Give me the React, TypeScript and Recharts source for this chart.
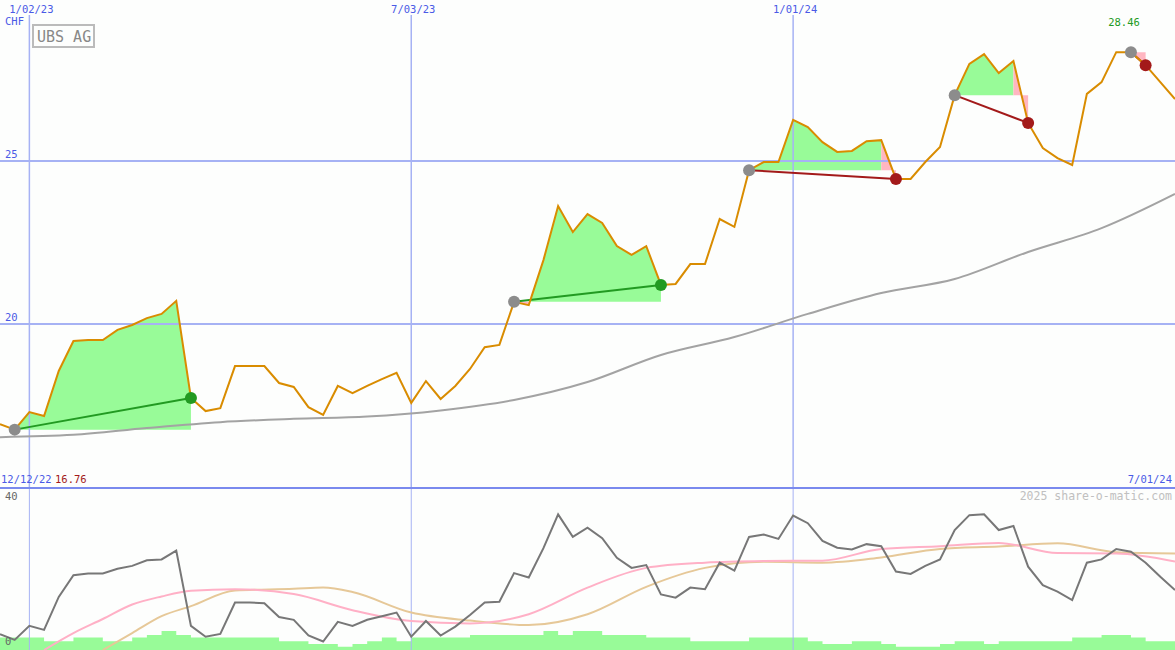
import React from 'react';
import { ComposedChart, Line, Area, XAxis, YAxis, ReferenceLine } from 'recharts';

// weekly closes, index 0 = left edge of the chart
const price = [
  16.93, 16.76, 17.3, 17.18, 18.56, 19.48, 19.51, 19.51, 19.82, 19.97,
  20.18, 20.31, 20.71, 17.73, 17.33, 17.42, 18.71, 18.71, 18.71, 18.19,
  18.07, 17.45, 17.21, 18.1, 17.88, 18.1, 18.31, 18.5, 17.58, 18.25,
  17.7, 18.1, 18.62, 19.29, 19.36, 20.68, 20.58, 21.96, 23.62, 22.82,
  23.37, 23.1, 22.39, 22.12, 22.39, 21.2, 21.23, 21.84, 21.84, 23.22,
  22.98, 24.72, 24.97, 24.97, 26.26, 26.04, 25.58, 25.28, 25.31, 25.61,
  25.64, 24.45, 24.45, 24.97, 25.43, 27.02, 27.98, 28.28, 27.7, 28.07,
  26.17, 25.4, 25.09, 24.88, 27.06, 27.42, 28.34, 28.34, 27.94, 27.42, 26.9,
];

// long moving average, read every 5 weeks
const maIdx = [0, 5, 10, 15, 20, 25, 30, 35, 40, 45, 50, 55, 60, 65, 70, 75, 80];
const maVals = [16.53, 16.6, 16.81, 16.99, 17.09, 17.16, 17.35, 17.67, 18.22, 19.05, 19.6, 20.31, 20.95, 21.38, 22.21, 22.94, 23.99];

// signals: buy week / sell week
const tradeBuy = [1, 35, 51, 65, 77];
const tradeSell = [13, 45, 61, 70, 78];

// lower panel
const osc = [
  3.9, 2.5, 6.0, 5.0, 13.2, 18.6, 19.0, 19.0, 20.2, 20.9,
  22.3, 22.5, 24.7, 6.0, 3.3, 4.0, 11.8, 11.8, 11.6, 8.2,
  7.5, 3.6, 2.1, 7.0, 6.0, 7.5, 8.4, 9.3, 3.3, 7.2,
  3.6, 5.8, 8.7, 11.8, 12.0, 19.1, 18.0, 25.3, 33.7, 28.1,
  30.4, 27.8, 22.9, 20.4, 21.1, 13.8, 13.0, 15.5, 15.1, 21.7,
  19.7, 28.1, 28.7, 27.6, 33.4, 31.5, 27.1, 25.4, 25.0, 26.3,
  25.8, 19.5, 18.9, 20.9, 22.5, 29.8, 33.5, 33.7, 29.8, 30.8,
  20.7, 16.1, 14.5, 12.4, 21.7, 22.5, 25.1, 24.4, 21.7, 18.2, 14.9,
];
const sigIdx = [3, 5, 7, 9, 11, 13, 16, 20, 24, 28, 32, 36, 40, 44, 48, 52, 56, 60, 64, 68, 72, 76, 80];
const sigVals = [0, 4.2, 7.7, 11.3, 13.3, 14.7, 15.1, 13.9, 9.9, 7.2, 6.6, 8.9, 15.5, 20.4, 21.7, 22.1, 22.2, 25.1, 25.8, 26.6, 24.1, 24.0, 22.0];
const avgIdx = [7, 9, 11, 13, 16, 20, 22, 24, 28, 32, 36, 40, 44, 48, 52, 56, 60, 64, 68, 72, 76, 80];
const avgVals = [0, 4.2, 8.4, 10.9, 14.8, 15.2, 15.5, 14.4, 9.3, 7.3, 6.2, 8.9, 15.7, 20.4, 21.9, 21.7, 23.0, 25.1, 25.7, 26.5, 24.3, 24.0];
const vol = [
  3.1, 3.1, 3.1, 2.2, 2.2, 3.1, 3.1, 2.2, 2.2, 3.1,
  3.7, 4.7, 3.7, 3.1, 3.1, 3.1, 3.1, 3.1, 3.1, 2.2,
  2.2, 1.5, 1.5, 0.8, 1.5, 2.2, 3.1, 2.2, 3.1, 3.1,
  3.1, 3.1, 3.7, 3.7, 3.7, 3.7, 3.7, 4.7, 3.7, 4.7,
  4.7, 3.7, 3.7, 3.7, 3.1, 3.1, 3.1, 2.2, 2.2, 2.2,
  2.2, 3.1, 3.1, 3.1, 3.1, 2.2, 1.5, 1.5, 2.2, 2.2,
  1.5, 0.8, 0.8, 0.8, 1.5, 2.2, 2.2, 1.5, 2.2, 2.2,
  2.2, 2.2, 2.2, 3.1, 3.1, 3.7, 3.7, 3.1, 2.2, 2.2, 2.2,
];

const gridIdx = [2, 28, 54];
const gridLabels = ['1/02/23', '7/03/23', '1/01/24'];
const priceLevels = [25, 20];

const W = 1175;
const TOP_H = 487;
const BOT_H = 161;
const BLUE = '#4a5ae6';
const GRID = '#a6b2f4';
const FONT = '"DejaVu Sans Mono", monospace';
const FS = 10.5;

const topData: any[] = price.map((p, i) => {
  const m = maIdx.indexOf(i);
  return { idx: i, price: p, ma: m >= 0 ? maVals[m] : null, green: null, pink: null };
});
tradeBuy.forEach((b, k) => {
  const s = tradeSell[k];
  const base = price[b];
  for (let i = b; i < s; i++) {
    const key = price[i + 1] < base ? 'pink' : 'green';
    topData[i][key] = [base, price[i]];
    topData[i + 1][key] = [base, price[i + 1]];
  }
  topData[b]['t' + k] = price[b];
  topData[s]['t' + k] = price[s];
});

const botData = osc.map((v, i) => {
  const a = sigIdx.indexOf(i);
  const b = avgIdx.indexOf(i);
  return { idx: i, osc: v, vol: vol[i], sig: a >= 0 ? sigVals[a] : null, avg: b >= 0 ? avgVals[b] : null };
});

const tradeDot = (k: number) => (props: any) => {
  const { cx, cy, payload, value, index } = props;
  if (value == null || cx == null || cy == null) return <g key={'e' + index} />;
  const win = price[tradeSell[k]] >= price[tradeBuy[k]];
  const fill = payload.idx === tradeBuy[k] ? '#8c8c8c' : win ? '#229a22' : '#a31a1a';
  return <circle key={'d' + index} cx={cx} cy={cy} r={6} fill={fill} />;
};

const DateLabel = (props: any) => {
  const vb = props.viewBox || {};
  return (
    <text x={vb.x + 2} y={13} textAnchor="middle" fontSize={FS} fontFamily={FONT} fill={BLUE}>
      {props.text}
    </text>
  );
};

const LevelLabel = (props: any) => {
  const vb = props.viewBox || {};
  return (
    <text x={5} y={vb.y - 3} fontSize={FS} fontFamily={FONT} fill={BLUE}>
      {props.text}
    </text>
  );
};

export default function App() {
  return (
    <div style={{ position: 'relative', width: W, height: 650, background: '#fdfefd', overflow: 'hidden' }}>
      <style>{'body{margin:0}'}</style>
      <ComposedChart width={W} height={TOP_H} data={topData} margin={{ top: 0, right: 0, bottom: 0, left: 0 }}>
        <XAxis dataKey="idx" type="number" domain={[0, 80]} hide />
        <YAxis type="number" domain={[15, 29.94]} hide allowDataOverflow />
        {priceLevels.map((lv) => (
          <ReferenceLine key={lv} y={lv} stroke={GRID} strokeWidth={2} label={<LevelLabel text={String(lv)} />} />
        ))}
        {gridIdx.map((d, k) => (
          <ReferenceLine
            key={d}
            segment={[{ x: d, y: 29.48 }, { x: d, y: 15 }]}
            stroke={GRID}
            strokeWidth={1.5}
            label={<DateLabel text={gridLabels[k]} />}
          />
        ))}
        <Area dataKey="green" fill="#98fb98" fillOpacity={1} stroke="none" isAnimationActive={false} activeDot={false} />
        <Area dataKey="pink" fill="#ffb6c1" fillOpacity={1} stroke="none" isAnimationActive={false} activeDot={false} />
        <Line type="monotone" dataKey="ma" stroke="#a3a3a3" strokeWidth={2} dot={false} connectNulls isAnimationActive={false} activeDot={false} />
        {tradeBuy.map((b, k) => (
          <Line
            key={b}
            dataKey={'t' + k}
            stroke={price[tradeSell[k]] >= price[b] ? '#229a22' : '#a31a1a'}
            strokeWidth={2}
            connectNulls
            dot={tradeDot(k)}
            activeDot={false}
            isAnimationActive={false}
          />
        ))}
        <Line dataKey="price" stroke="#d98c00" strokeWidth={2} dot={false} isAnimationActive={false} activeDot={false} />
      </ComposedChart>
      <div style={{ height: 2, background: '#7a8aee' }} />
      <ComposedChart width={W} height={BOT_H} data={botData} margin={{ top: 0, right: 0, bottom: 0, left: 0 }}>
        <XAxis dataKey="idx" type="number" domain={[0, 80]} hide />
        <YAxis type="number" domain={[0, 40]} hide allowDataOverflow />
        {gridIdx.map((d) => (
          <ReferenceLine key={d} x={d} stroke={GRID} strokeWidth={1} />
        ))}
        <Area type="stepAfter" dataKey="vol" fill="#98fb98" fillOpacity={1} stroke="none" isAnimationActive={false} activeDot={false} />
        <Line type="monotone" dataKey="avg" stroke="#e6c898" strokeWidth={2} dot={false} connectNulls isAnimationActive={false} activeDot={false} />
        <Line type="monotone" dataKey="sig" stroke="#ffb0c6" strokeWidth={2} dot={false} connectNulls isAnimationActive={false} activeDot={false} />
        <Line dataKey="osc" stroke="#777777" strokeWidth={2} dot={false} isAnimationActive={false} activeDot={false} />
      </ComposedChart>
      <svg width={W} height={650} style={{ position: 'absolute', left: 0, top: 0, pointerEvents: 'none' }} fontFamily={FONT}>
        <text x={5} y={25} fontSize={FS} fill={BLUE}>CHF</text>
        <rect x={33} y={25} width={61} height={22} fill="#fdfefd" stroke="#bbbbbb" strokeWidth={2} />
        <text x={37} y={42} fontSize={15} fill="#888888">UBS AG</text>
        <text x={1124} y={26} fontSize={FS} textAnchor="middle" fill="#229a22">28.46</text>
        <text x={1} y={483} fontSize={FS} fill={BLUE}>12/12/22</text>
        <text x={55} y={483} fontSize={FS} fill="#a31a1a">16.76</text>
        <text x={1172} y={483} fontSize={FS} textAnchor="end" fill={BLUE}>7/01/24</text>
        <text x={1172} y={500} fontSize={11.5} textAnchor="end" fill="#c0c0c0">2025 share-o-matic.com</text>
        <text x={5} y={500} fontSize={FS} fill="#666666">40</text>
        <text x={5} y={645} fontSize={FS} fill="#666666">0</text>
      </svg>
    </div>
  );
}
